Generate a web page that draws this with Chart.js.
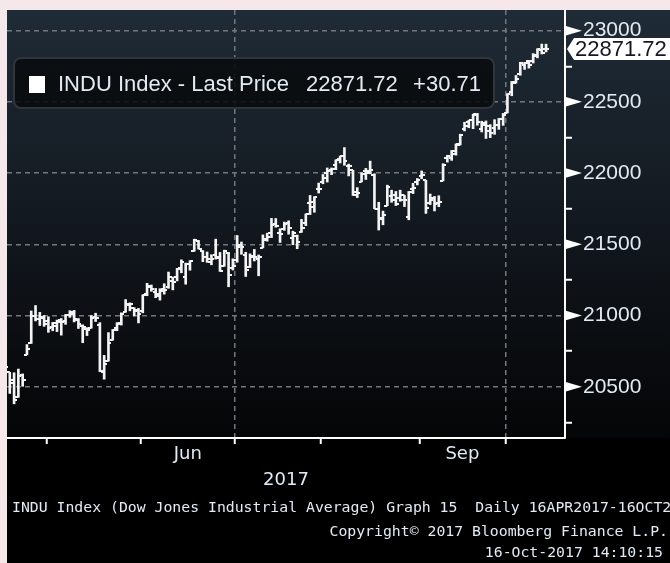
<!DOCTYPE html>
<html><head><meta charset="utf-8">
<script src="https://cdn.jsdelivr.net/npm/chart.js@4"></script>
<style>
html,body{margin:0;padding:0;background:#f6e7ea;width:670px;height:563px;overflow:hidden}
#wrap{position:absolute;left:7px;top:10px;width:663px;height:553px;background:#000}
canvas{display:block}
</style></head><body>
<div id="wrap"><canvas id="c" width="663" height="553"></canvas></div>
<script>
// ---- categories (trading days) ----
const monthDays = [
  ['2017-04',[17,18,19,20,21,24,25,26,27,28]],
  ['2017-05',[1,2,3,4,5,8,9,10,11,12,15,16,17,18,19,22,23,24,25,26,30,31]],
  ['2017-06',[1,2,5,6,7,8,9,12,13,14,15,16,19,20,21,22,23,26,27,28,29,30]],
  ['2017-07',[3,5,6,7,10,11,12,13,14,17,18,19,20,21,24,25,26,27,28,31]],
  ['2017-08',[1,2,3,4,7,8,9,10,11,14,15,16,17,18,21,22,23,24,25,28,29,30,31]],
  ['2017-09',[1,5,6,7,8,11,12,13,14,15,18,19,20,21,22,25,26,27,28,29]],
  ['2017-10',[2,3,4,5,6,9,10,11,12,13]]
];
const dates = monthDays.flatMap(([m, ds]) => ds.map(d => m + '-' + String(d).padStart(2,'0')));

// ---- series values (OHLC) ----
const open = [
  20475,20601,20547,20426,20579,20724,20804,20994,20973,20990,
  20962,20920,20928,20970,20960,21001,21024,20970,20923,20903,20911,20989,20936,20602,20680,20827,20910,20944,21025,21073,21050,21041,
  21030,21154,21203,21163,21154,21186,21199,21244,21269,21335,21272,21364,21451,21521,21456,21414,21376,21424,21405,21346,21439,21332,
  21392,21496,21426,21339,21411,21400,21476,21540,21577,21646,21579,21606,21647,21547,21559,21584,21650,21789,21761,21888,
  21939,22004,22023,22059,22100,22121,22048,22020,21870,21939,22013,22017,21989,21746,21687,21771,21837,21846,21822,21843,21695,21887,21935,
  21982,21950,21791,21825,21790,21946,22105,22105,22136,22200,22312,22360,22373,22405,22311,22339,22330,22320,22341,22382,
  22423,22568,22634,22698,22760,22786,22790,22820,22865,22871
];
const high = [
  20637,20601,20598,20624,20590,20796,21032,21070,21022,21000,
  20991,20952,20968,20979,21007,21034,21036,20979,20935,20915,21000,21016,20950,20720,20880,20902,20950,21019,21112,21089,21055,21050,
  21145,21226,21214,21190,21188,21223,21305,21270,21331,21391,21368,21385,21536,21527,21456,21446,21427,21536,21443,21459,21443,21398,
  21562,21516,21444,21433,21464,21425,21566,21578,21682,21681,21609,21656,21665,21592,21565,21675,21713,21843,21834,21930,
  21990,22036,22036,22093,22119,22179,22063,22020,21898,22003,22033,22084,21995,21795,21733,21915,21880,21871,21880,21843,21871,21928,21962,
  22015,21950,21853,21836,21841,22066,22125,22159,22205,22273,22357,22371,22413,22419,22364,22366,22340,22375,22384,22419,
  22558,22643,22685,22778,22777,22791,22839,22873,22906,22905
];
const low = [
  20474,20453,20380,20426,20503,20724,20804,20962,20930,20924,
  20882,20893,20887,20862,20938,20987,20955,20909,20809,20859,20911,20958,20606,20553,20680,20827,20893,20933,21023,21033,20997,20948,
  21019,21139,21170,21125,21108,21150,21191,21180,21243,21300,21220,21318,21451,21467,21378,21373,21356,21396,21310,21346,21202,21319,
  21374,21430,21274,21337,21383,21279,21475,21522,21547,21620,21513,21598,21571,21497,21469,21584,21631,21709,21725,21860,
  21925,21937,21989,22024,22071,22055,21980,21843,21828,21939,21955,21995,21750,21600,21637,21771,21795,21772,21802,21765,21672,21856,21917,
  21960,21717,21779,21734,21764,21946,22077,22089,22126,22198,22296,22318,22312,22336,22289,22243,22249,22272,22307,22335,
  22423,22543,22632,22687,22728,22737,22773,22809,22836,22851
];
const close = [
  20636.92,20523.28,20404.49,20578.71,20547.76,20763.89,20996.12,20975.09,20981.33,20940.51,
  20913.46,20949.89,20957.90,20951.47,21006.94,21012.28,20975.78,20943.11,20919.42,20896.61,20981.94,20979.75,20606.93,20663.02,20804.84,20894.83,20937.91,21012.42,21082.95,21080.28,21029.47,21008.65,
  21144.18,21206.29,21184.04,21136.23,21173.69,21182.53,21271.97,21235.67,21328.47,21374.56,21359.90,21384.28,21528.99,21467.14,21410.03,21397.29,21394.76,21409.55,21310.66,21454.61,21287.03,21349.63,
  21479.27,21478.17,21320.04,21414.34,21408.52,21409.07,21532.14,21553.09,21637.74,21629.72,21574.73,21640.75,21611.78,21580.07,21513.17,21613.43,21711.01,21796.55,21830.31,21891.12,
  21963.92,22016.24,22026.10,22092.81,22118.42,22085.34,22048.70,21844.01,21858.32,21993.71,21998.99,22024.87,21750.73,21674.51,21703.75,21899.89,21812.09,21783.40,21813.67,21808.40,21865.37,21892.43,21948.10,
  21987.56,21753.31,21807.64,21784.78,21797.79,22057.37,22118.86,22158.18,22203.48,22268.34,22331.35,22370.80,22412.59,22359.23,22349.59,22296.09,22284.32,22340.71,22381.20,22405.09,
  22557.60,22641.67,22661.64,22775.39,22773.67,22761.07,22830.68,22872.89,22841.01,22871.72
];

// ---- tick labels / texts ----
const yLabelValues = [20500,21000,21500,22000,22500,23000];
const yMinorValues = [20250,20750,21250,21750,22250,22750];
const xLabelMonths = ['2017-06','2017-09'];
const xLabelText = ['Jun','Sep'];
const xGridMonths = ['2017-07','2017-10'];
const xAxisTitle = '2017';
const seriesName = 'INDU Index - Last Price';
const footerLines = [
  'INDU Index (Dow Jones Industrial Average) Graph 15  Daily 16APR2017-16OCT2017',
  'Copyright\u00A9 2017 Bloomberg Finance L.P.',
  '16-Oct-2017 14:10:15'
];

// ---- derived ----
const last = close.length - 1;
const lastPrice = close[last];
const change = close[last] - close[last-1];
const fmt = v => v.toFixed(2);

const boundaries = [];
const monthStart = {};
for (let i = 1; i < dates.length; i++) {
  const m = dates[i].slice(0,7), pm = dates[i-1].slice(0,7);
  if (m !== pm) { boundaries.push(i - 0.5); monthStart[m] = i - 0.5; }
}
const allMonths = monthDays.map(m => m[0]);
const xLabelAt = new Map();
xLabelMonths.forEach((m, k) => {
  const idx = allMonths.indexOf(m);
  const s = monthStart[m], e = monthStart[allMonths[idx+1]];
  xLabelAt.set((s + e) / 2, xLabelText[k]);
});
const xGridAt = new Set(xGridMonths.map(m => monthStart[m]));
const xBoundary = new Set(boundaries);
const xTicks = [...boundaries, ...xLabelAt.keys()].sort((a,b)=>a-b);
const yTicks = [...yLabelValues, ...yMinorValues].sort((a,b)=>a-b);

const TEXT = '#e2eaf3';
const GRID = '#74787d';

function tickImg(side) {
  const c = document.createElement('canvas');
  c.width = 6; c.height = 2;
  const g = c.getContext('2d');
  g.fillStyle = '#f4f4f4';
  g.fillRect(side === 'left' ? 0 : 3, 0, 3, 2);
  return c;
}
const openImg = tickImg('left');
const closeImg = tickImg('right');

const bgPlugin = {
  id: 'bg',
  beforeDraw(chart) {
    const {ctx, width, height, chartArea} = chart;
    ctx.save();
    ctx.fillStyle = '#000';
    ctx.fillRect(0, 0, width, height);
    const g = ctx.createLinearGradient(0, 0, 0, chartArea.bottom);
    g.addColorStop(0, '#1f2b36');
    g.addColorStop(0.4, '#151c24');
    g.addColorStop(0.75, '#0b0e12');
    g.addColorStop(1, '#040506');
    ctx.fillStyle = g;
    ctx.fillRect(0, 0, width, chartArea.bottom);
    ctx.restore();
  }
};

function roundRect(ctx, x, y, w, h, r) {
  ctx.beginPath();
  ctx.moveTo(x + r, y);
  ctx.lineTo(x + w - r, y); ctx.quadraticCurveTo(x + w, y, x + w, y + r);
  ctx.lineTo(x + w, y + h - r); ctx.quadraticCurveTo(x + w, y + h, x + w - r, y + h);
  ctx.lineTo(x + r, y + h); ctx.quadraticCurveTo(x, y + h, x, y + h - r);
  ctx.lineTo(x, y + r); ctx.quadraticCurveTo(x, y, x + r, y);
  ctx.closePath();
}

const decoPlugin = {
  id: 'deco',
  afterDatasetsDraw(chart) {
    const ctx = chart.ctx;
    ctx.save();
    roundRect(ctx, 7, 48, 480, 50, 8);
    ctx.fillStyle = 'rgba(9,11,14,0.88)';
    ctx.fill();
    ctx.lineWidth = 2;
    ctx.strokeStyle = '#30353b';
    ctx.stroke();
    ctx.fillStyle = '#ffffff';
    ctx.fillRect(22, 66, 16, 17);
    ctx.font = '22px "Liberation Sans", Arial, sans-serif';
    ctx.textBaseline = 'middle';
    ctx.fillStyle = TEXT;
    ctx.textAlign = 'left';
    ctx.fillText(seriesName, 51, 75);
    ctx.fillText(fmt(lastPrice), 299, 75);
    ctx.textAlign = 'right';
    ctx.fillText((change >= 0 ? '+' : '') + fmt(change), 474, 75);
    ctx.restore();
  },
  afterDraw(chart) {
    const ctx = chart.ctx;
    const ys = chart.scales.y;
    const ax = chart.chartArea.right;
    ctx.save();
    ctx.fillStyle = '#ffffff';
    yLabelValues.forEach(v => {
      const py = ys.getPixelForValue(v);
      ctx.beginPath();
      ctx.moveTo(ax, py - 5);
      ctx.lineTo(ax + 17, py);
      ctx.lineTo(ax, py + 5);
      ctx.closePath();
      ctx.fill();
    });
    const py = ys.getPixelForValue(lastPrice);
    ctx.beginPath();
    ctx.moveTo(ax + 2, py);
    ctx.lineTo(ax + 9, py - 11);
    ctx.lineTo(ax + 110, py - 11);
    ctx.lineTo(ax + 110, py + 11);
    ctx.lineTo(ax + 9, py + 11);
    ctx.closePath();
    ctx.fillStyle = '#ffffff';
    ctx.fill();
    ctx.fillStyle = '#161622';
    ctx.font = '22px "Liberation Sans", Arial, sans-serif';
    ctx.textBaseline = 'middle';
    ctx.textAlign = 'left';
    ctx.fillText(fmt(lastPrice), ax + 10, py + 1);
    ctx.font = '14.8px "DejaVu Sans Mono", monospace';
    ctx.fillStyle = TEXT;
    ctx.textAlign = 'left';
    ctx.fillText(footerLines[0], 5, 498);
    ctx.textAlign = 'right';
    ctx.fillText(footerLines[1], 661, 522);
    ctx.fillText(footerLines[2], 656, 543);
    ctx.restore();
  }
};

new Chart(document.getElementById('c'), {
  type: 'bar',
  data: {
    datasets: [
      {
        type: 'bar',
        label: 'High-Low',
        data: dates.map((d, i) => ({x: i, y: [low[i], high[i]]})),
        backgroundColor: '#f4f4f4',
        borderWidth: 0,
        barThickness: 2,
        grouped: false
      },
      {
        type: 'scatter',
        label: 'Open',
        data: dates.map((d, i) => ({x: i, y: open[i]})),
        pointStyle: openImg,
        pointRadius: 3
      },
      {
        type: 'scatter',
        label: 'Close',
        data: dates.map((d, i) => ({x: i, y: close[i]})),
        pointStyle: closeImg,
        pointRadius: 3
      }
    ]
  },
  options: {
    responsive: false,
    maintainAspectRatio: false,
    devicePixelRatio: 1,
    animation: false,
    events: [],
    layout: {padding: 0, autoPadding: false},
    plugins: {legend: {display: false}, tooltip: {enabled: false}, title: {display: false}},
    scales: {
      x: {
        type: 'linear', min: 0.35, max: 130.42, offset: false,
        afterBuildTicks: s => { s.ticks = xTicks.map(v => ({value: v})); },
        afterFit: s => { s.height = 125; s.paddingLeft = 0; s.paddingRight = 0; },
        ticks: {
          autoSkip: false, maxRotation: 0, minRotation: 0, padding: 0, color: TEXT,
          font: {family: 'DejaVu Sans', size: 18},
          callback: v => xLabelAt.get(v) || ''
        },
        grid: {
          offset: false,
          color: c => (c.tick && xGridAt.has(c.tick.value)) ? GRID : 'transparent',
          lineWidth: 1.5, drawTicks: true, tickLength: 6, tickWidth: 2,
          tickColor: c => (c.tick && xBoundary.has(c.tick.value)) ? '#ffffff' : 'transparent'
        },
        border: {display: true, color: '#ffffff', width: 2, dash: [5, 4]},
        title: {display: true, text: xAxisTitle, color: TEXT, font: {family: 'DejaVu Sans', size: 18}, padding: {top: 0, bottom: 72}}
      },
      y: {
        type: 'linear', position: 'right', min: 20140, max: 23145,
        afterBuildTicks: s => { s.ticks = yTicks.map(v => ({value: v})); },
        afterFit: s => { s.width = 105; s.paddingTop = 0; s.paddingBottom = 0; },
        ticks: {
          autoSkip: false, padding: 11, color: TEXT,
          font: {family: 'Liberation Sans', size: 21},
          callback: v => yLabelValues.includes(v) ? String(v) : ''
        },
        grid: {
          offset: false,
          color: c => (c.tick && yLabelValues.includes(c.tick.value)) ? GRID : 'transparent',
          lineWidth: 1.5, drawTicks: true, tickLength: 7, tickWidth: 2,
          tickColor: c => (c.tick && yMinorValues.includes(c.tick.value)) ? '#ffffff' : 'transparent'
        },
        border: {display: true, color: '#ffffff', width: 2, dash: [5, 4]}
      }
    }
  },
  plugins: [bgPlugin, decoPlugin]
});
</script>
</body></html>
